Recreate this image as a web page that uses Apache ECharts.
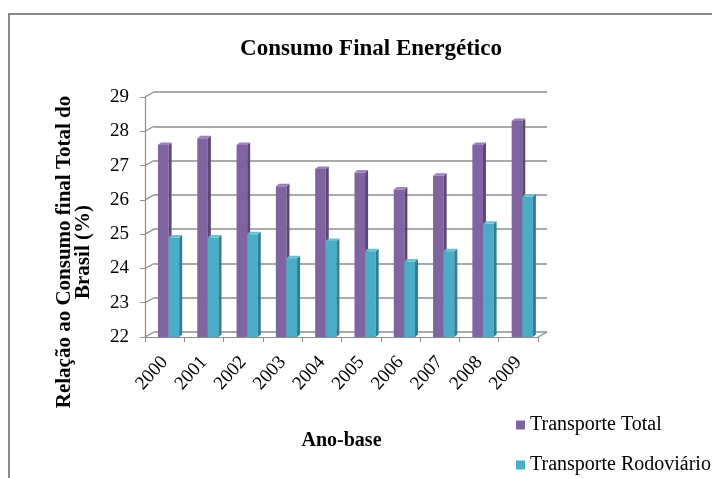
<!DOCTYPE html>
<html>
<head>
<meta charset="utf-8">
<script src="https://cdn.jsdelivr.net/npm/echarts@6/dist/echarts.min.js"></script>
<style>
html,body{margin:0;padding:0;background:#fff;}
#main{width:712px;height:478px;}
</style>
</head>
<body>
<div id="main"></div>
<script>
var anos = ['2000', '2001', '2002', '2003', '2004', '2005', '2006', '2007', '2008', '2009'];
var transporteTotal = [27.6, 27.8, 27.6, 26.4, 26.9, 26.8, 26.3, 26.7, 27.6, 28.3];
var transporteRodoviario = [24.9, 24.9, 25.0, 24.3, 24.8, 24.5, 24.2, 24.5, 25.3, 26.1];
var yTicks = [22, 23, 24, 25, 26, 27, 28, 29];

var serif = 'Liberation Serif';
var cinza = '#8c8c8c';

// cores: frente, lado, topo
var corTotal = ['#8064a2', '#5c4778', '#9a82ba'];
var corRodo = ['#4bacc6', '#2f7e93', '#6cc0d6'];

// deslocamento da parede do fundo (falso 3D)
var DX = 9, DY = -5;

var chart = echarts.init(document.getElementById('main'));

function barra(offset, cores) {
    return function (params, api) {
        var idx = api.value(0);
        var topo = api.coord([idx, api.value(1)]);
        var base = api.coord([idx, 22]);
        var bw = api.size([1, 0])[0];
        var w = bw * 0.27;
        var x0 = topo[0] + offset * bw;
        var d = 3, dh = 2.5;
        return {
            type: 'group',
            children: [
                {type: 'rect', shape: {x: x0, y: topo[1], width: w, height: base[1] - topo[1]}, style: {fill: cores[0]}},
                {type: 'polygon', shape: {points: [[x0 + w, topo[1]], [x0 + w + d, topo[1] - dh], [x0 + w + d, base[1] - dh], [x0 + w, base[1]]]}, style: {fill: cores[1]}},
                {type: 'polygon', shape: {points: [[x0, topo[1]], [x0 + d, topo[1] - dh], [x0 + w + d, topo[1] - dh], [x0 + w, topo[1]]]}, style: {fill: cores[2]}}
            ]
        };
    };
}

// ligações diagonais entre o eixo da frente e a parede do fundo
function paredeEsq(params, api) {
    var cs = params.coordSys;
    var p = api.coord([0, api.value(0)]);
    var linhas = [{type: 'line', shape: {x1: cs.x, y1: p[1], x2: cs.x + DX, y2: p[1] + DY}, style: {stroke: cinza, lineWidth: 1.2}}];
    if (params.dataIndex === 0) {
        linhas.push({type: 'line', shape: {x1: cs.x + cs.width, y1: p[1], x2: cs.x + cs.width + DX, y2: p[1] + DY}, style: {stroke: cinza, lineWidth: 1.2}});
    }
    return {type: 'group', children: linhas};
}

function legenda(nome, topo) {
    return {
        left: 516,
        top: topo,
        padding: 0,
        itemWidth: 9,
        itemHeight: 9,
        icon: 'rect',
        textStyle: {fontFamily: serif, fontSize: 20, color: '#000'},
        data: [nome]
    };
}

var option = {
    animation: false,
    textStyle: {fontFamily: serif},
    title: {
        text: 'Consumo Final Energético',
        left: 366,
        top: 33,
        textAlign: 'center',
        textStyle: {fontFamily: serif, fontSize: 23, fontWeight: 'bold', color: '#000'}
    },
    legend: [
        legenda('Transporte Total', 415),
        legenda('Transporte Rodoviário', 455)
    ],
    grid: [
        {left: 145, right: 174, top: 97, bottom: 141},
        {left: 145 + DX, right: 174 - DX, top: 97 + DY, bottom: 141 - DY}
    ],
    xAxis: [
        {
            type: 'category', gridIndex: 0, data: anos,
            axisLine: {lineStyle: {color: cinza, width: 1.2}},
            axisTick: {show: true, length: 5, lineStyle: {color: cinza}},
            axisLabel: {rotate: 48, margin: 22, fontFamily: serif, fontSize: 19, color: '#000'},
            name: 'Ano-base', nameLocation: 'middle', nameGap: 94,
            nameTextStyle: {fontFamily: serif, fontSize: 20, fontWeight: 'bold', color: '#000'}
        },
        {
            type: 'category', gridIndex: 1, data: anos,
            axisLine: {show: false}, axisTick: {show: false}, axisLabel: {show: false}
        }
    ],
    yAxis: [
        {
            type: 'value', gridIndex: 0, min: 22, max: 29, interval: 1,
            axisLine: {show: true, lineStyle: {color: cinza, width: 1.2}},
            axisTick: {show: true, length: 5, lineStyle: {color: cinza}},
            splitLine: {show: false},
            axisLabel: {margin: 16, fontFamily: serif, fontSize: 19, color: '#000'}
        },
        {
            type: 'value', gridIndex: 1, min: 22, max: 29, interval: 1,
            axisLine: {show: false}, axisTick: {show: false}, axisLabel: {show: false},
            splitLine: {show: true, lineStyle: {color: cinza, width: 1.5}}
        }
    ],
    graphic: [
        {
            type: 'polyline',
            shape: {points: [[9, 478], [9, 14], [712, 14]]},
            style: {stroke: '#8a8a8a', lineWidth: 2, fill: null}
        },
        {
            type: 'text',
            x: 74, y: 252,
            rotation: Math.PI / 2,
            style: {
                text: 'Relação ao Consumo final Total do\nBrasil (%)',
                fontFamily: serif, fontSize: 21, fontWeight: 'bold', fill: '#000',
                align: 'center', verticalAlign: 'middle', lineHeight: 19
            }
        }
    ],
    series: [
        {
            name: 'parede', type: 'custom', xAxisIndex: 0, yAxisIndex: 0,
            data: yTicks.map(function (v) { return [v]; }),
            renderItem: paredeEsq, silent: true
        },
        {
            name: 'Transporte Total', type: 'custom', xAxisIndex: 0, yAxisIndex: 0,
            itemStyle: {color: corTotal[0]},
            data: transporteTotal.map(function (v, i) { return [i, v]; }),
            renderItem: barra(-0.17, corTotal)
        },
        {
            name: 'Transporte Rodoviário', type: 'custom', xAxisIndex: 0, yAxisIndex: 0,
            itemStyle: {color: corRodo[0]},
            data: transporteRodoviario.map(function (v, i) { return [i, v]; }),
            renderItem: barra(0.10, corRodo)
        }
    ]
};
chart.setOption(option);
</script>
</body>
</html>
